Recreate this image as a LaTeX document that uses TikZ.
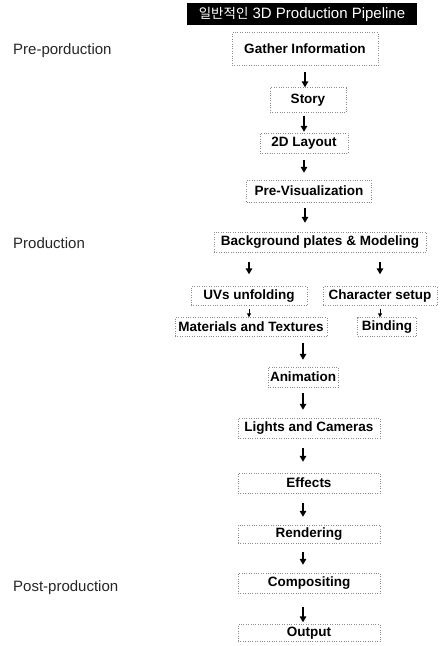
\documentclass[tikz,border=0pt]{standalone}
\usepackage{fontspec}
\setmainfont{Liberation Sans}
\newfontfamily\cjk{Noto Sans CJK KR}
\usetikzlibrary{arrows.meta}

\begin{document}
\begin{tikzpicture}[x=1pt,y=-1pt]
	\tikzstyle{every edge}=[draw,line width=1.6pt,-{Triangle[width=6.5pt,length=6pt]}]
	\tikzstyle{stage}=[draw=black!45,dotted,inner sep=0pt,minimum height=20pt,font=\fontsize{13.5}{16}\selectfont\bfseries]
	\tikzstyle{phase}=[anchor=west,inner sep=0pt,font=\fontsize{15}{18}\selectfont,text=black!85]
	\tikzstyle{small}=[line width=1pt,-{Triangle[width=4pt,length=4pt]}]

	\useasboundingbox (0,0) rectangle (440,646);

	\node (title) at (302,14) [fill=black,text=white,minimum width=230pt,minimum height=22pt,inner sep=0pt,font=\fontsize{15}{18}\selectfont] {{\fontsize{13.5}{16}\cjk 일반적인} 3D Production Pipeline};

	\node (pre) at (13,51) [phase] {Pre-porduction};
	\node (prod) at (13,243) [phase] {Production};
	\node (post) at (13,588) [phase] {Post-production};

	\node (gather) at (305,49) [stage,minimum width=146pt,minimum height=33pt] {Gather Information};
	\node (story) at (308,100) [stage,minimum width=76pt,minimum height=25pt] {Story};
	\node (layout) at (304,143) [stage,minimum width=88pt] {2D Layout};
	\node (previs) at (309,191) [stage,minimum width=125pt,minimum height=22pt] {Pre-Visualization};
	\node (bg) at (320,242) [stage,minimum width=212pt] {Background plates \& Modeling};
	\node (uvs) at (249,296) [stage,minimum width=116pt,minimum height=19pt] {UVs unfolding};
	\node (char) at (380,296) [stage,minimum width=114pt,minimum height=19pt] {Character setup};
	\node (mat) at (251,327) [stage,minimum width=152pt,minimum height=19pt] {Materials and Textures};
	\node (bind) at (387,327) [stage,minimum width=59pt,minimum height=19pt] {Binding};
	\node (anim) at (303,377) [stage,minimum width=70pt] {Animation};
	\node (lights) at (309,428) [stage,minimum width=142pt] {Lights and Cameras};
	\node (fx) at (309,483) [stage,minimum width=142pt] {Effects};
	\node (render) at (309,534) [stage,minimum width=142pt,minimum height=18pt] {Rendering};
	\node (comp) at (309,583) [stage,minimum width=142pt] {Compositing};
	\node (out) at (309,633) [stage,minimum width=142pt,minimum height=17pt] {Output};

	% pre-production
	\path (gather.south) edge[shorten <=6pt] (gather.south |- story.north);
	\path (story.south -| layout.north) edge[shorten <=3pt,shorten >=1pt] (layout.north);
	\path (layout.south) edge[shorten <=7pt,shorten >=7pt] (layout.south |- previs.north);
	\path (previs.south -| gather.south) edge[shorten <=6pt,shorten >=9pt] (gather.south |- bg.north);

	% production
	\path (uvs.north |- bg.south) edge[shorten <=10pt,shorten >=12pt] (uvs.north);
	\path (char.north |- bg.south) edge[shorten <=10pt,shorten >=12pt] (char.north);
	\path (uvs.south) edge[small,shorten <=3pt] (uvs.south |- mat.north);
	\path (char.south) edge[small,shorten <=3pt] (char.south |- bind.north);
	\path (anim.north |- mat.south) edge[shorten <=6pt,shorten >=7pt] (anim.north);
	\path (anim.south) edge[shorten <=6pt,shorten >=8pt] (anim.south |- lights.north);
	\path (lights.south -| anim.south) edge[shorten <=10pt,shorten >=11pt] (anim.south |- fx.north);
	\path (fx.south -| anim.south) edge[shorten <=10pt,shorten >=8pt] (anim.south |- render.north);

	% post-production
	\path (render.south -| anim.south) edge[shorten <=9pt,shorten >=8pt] (anim.south |- comp.north);
	\path (comp.south -| anim.south) edge[shorten <=14pt,shorten >=2pt] (anim.south |- out.north);
\end{tikzpicture}
\end{document}
